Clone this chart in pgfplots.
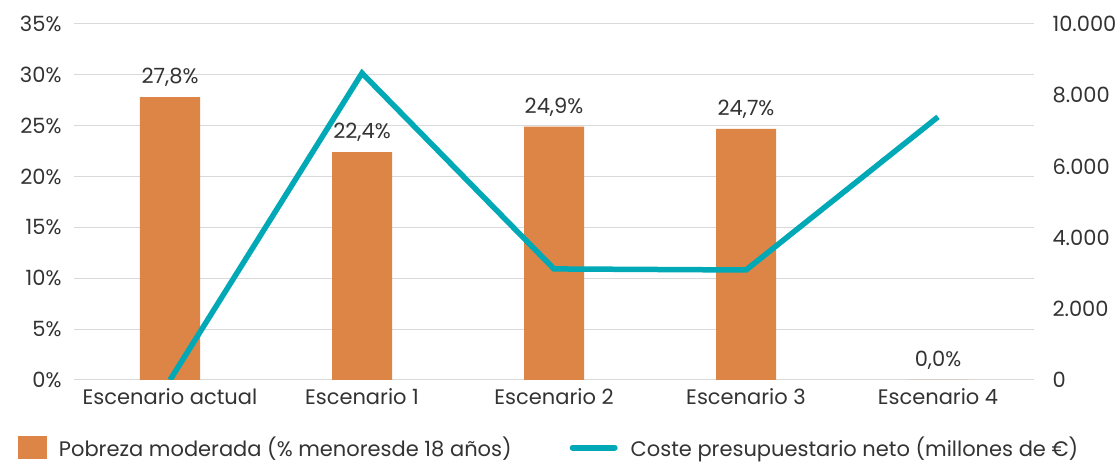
\documentclass[border=0pt]{standalone}
\usepackage{fontspec}
\setmainfont{Poppins}
\usepackage{pgfplots}
\pgfplotsset{compat=1.18}
\definecolor{barc}{HTML}{DD8447}
\definecolor{linec}{HTML}{00A9B5}
\definecolor{gridc}{HTML}{D9D9D9}
\definecolor{txt}{HTML}{333333}
\begin{document}
\begin{tikzpicture}[font=\fontsize{21}{25}\selectfont, text=txt]
\path[use as bounding box] (-74pt,-85pt) rectangle (1046pt,380pt);
\begin{axis}[
  at={(0,0)}, anchor=south west,
  scale only axis, width=960pt, height=356pt,
  ybar, bar width=60pt,
  xmin=-0.5, xmax=4.5, ymin=0, ymax=35,
  xtick=data,
  xticklabels={Escenario actual, Escenario 1, Escenario 2, Escenario 3, Escenario 4},
  ytick={0,5,...,35},
  yticklabel={\pgfmathprintnumber{\tick}\%},
  /pgf/number format/assume math mode=true,
  axis y line*=left, axis x line*=bottom,
  x axis line style={gridc, line width=1pt, -},
  y axis line style={draw=none},
  major tick length=0pt,
  ymajorgrids, grid style={gridc, line width=1pt},
  yticklabel style={text=txt, xshift=-9pt},
  xticklabel style={text=txt, yshift=-5pt},
  nodes near coords={\pgfmathprintnumber[fixed,fixed zerofill,precision=1,use comma,assume math mode=true]{\pgfplotspointmeta}\%},
  nodes near coords style={text=txt, yshift=7pt},
  point meta=y,
]
\addplot[fill=barc, draw=none] coordinates {(0,27.8) (1,22.4) (2,24.9) (3,24.7) (4,0)};
\end{axis}
\begin{axis}[
  at={(0,0)}, anchor=south west,
  scale only axis, width=960pt, height=356pt,
  xmin=-0.5, xmax=4.5, ymin=0, ymax=10000,
  axis y line*=right, axis x line=none,
  y axis line style={draw=none},
  major tick length=0pt,
  ytick={0,2000,...,10000},
  scaled y ticks=false,
  /pgf/number format/.cd, 1000 sep={.}, assume math mode=true,
  /pgfplots/.cd,
  yticklabel style={text=txt, xshift=15pt},
  legend style={at={(-0.059,-0.19)}, anchor=west, draw=none, fill=none,
    inner sep=0pt, legend columns=2, font=\fontsize{21}{25}\selectfont,
    text=txt,
    /tikz/every odd column/.append style={column sep=11pt},
    /tikz/every even column/.append style={column sep=56pt}},
]
\addlegendimage{legend image code/.code={\fill[barc] (0pt,-11pt) rectangle (28pt,11pt);}}
\addlegendentry{Pobreza moderada (\% menoresde 18 años)}
\addplot[linec, line width=5.5pt, legend image code/.code={\draw[linec, line width=6pt, line cap=round] (3pt,0pt) -- (45pt,0pt);}] coordinates {(0,0) (1,8620) (2,3120) (3,3090) (4,7390)};
\addlegendentry{Coste presupuestario neto (millones de €)}
\end{axis}
\end{tikzpicture}
\end{document}
